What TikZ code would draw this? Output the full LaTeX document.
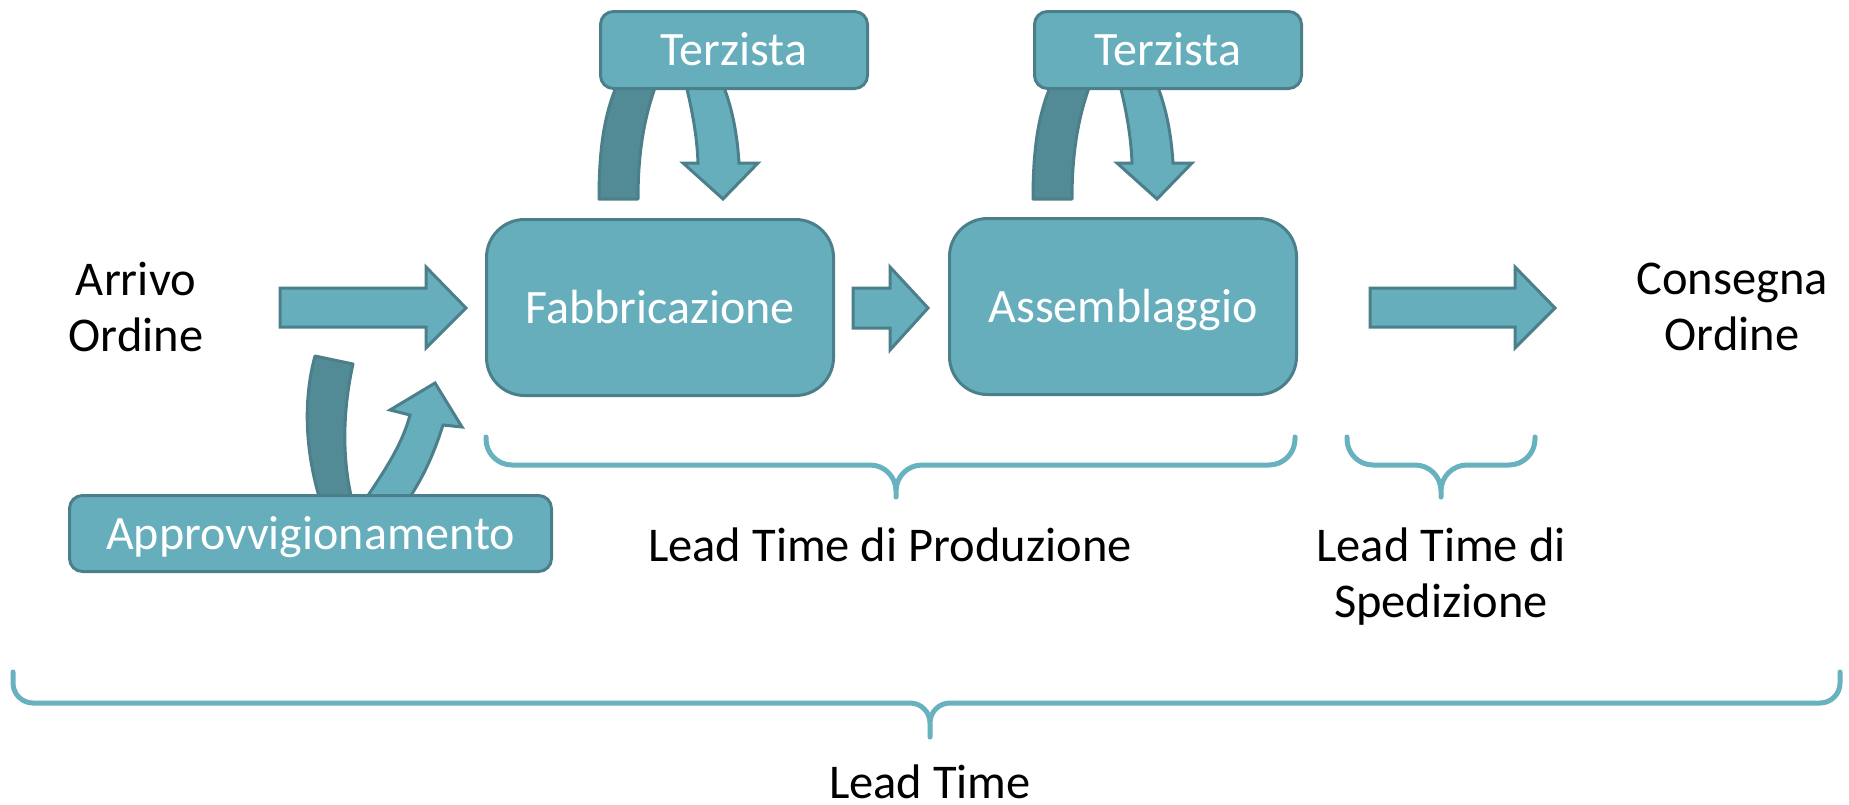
\documentclass[tikz,border=0pt]{standalone}
\usepackage{fontspec}
\setmainfont{Carlito}
\definecolor{tfill}{HTML}{67AEBD}
\definecolor{tline}{HTML}{4B7F8A}
\definecolor{tdark}{HTML}{528A95}
\definecolor{tbrace}{HTML}{68B1BF}
\tikzset{
  procbox/.style={draw=tline, fill=tfill, line width=3pt, rounded corners=38pt, text=white,
    font=\fontsize{48}{56}\selectfont,
    inner sep=0pt, minimum width=347pt, minimum height=176pt, text height=31pt, text depth=0pt},
  smallbox/.style={draw=tline, fill=tfill, line width=3pt, rounded corners=13pt, text=white,
    font=\fontsize{48}{56}\selectfont,
    inner sep=0pt, text height=31pt, text depth=0pt},
  blockarrow/.style={draw=tline, fill=tfill, line width=3pt, line join=miter},
  darkband/.style={draw=tline, fill=tdark, line width=3pt, line join=round},
  lightband/.style={draw=tline, fill=tfill, line width=3pt, line join=miter},
  bracestyle/.style={draw=tbrace, line width=5pt, line cap=round, line join=round},
  plain/.style={inner sep=0pt, text=black, align=center, font=\fontsize{48.5}{56}\selectfont},
}
% x1 x2 xt y0 y1 y2 r
\newcommand\leadbrace[7]{%
  \draw[bracestyle] (#1,#4) -- (#1,{#5-#7})
    .. controls (#1,{#5-0.448*#7}) and ({#1+0.448*#7},#5) .. ({#1+#7},#5)
    -- ({#3-#7},#5)
    .. controls ({#3-0.448*#7},#5) and (#3,{#5+0.448*#7}) .. (#3,{#5+#7})
    -- (#3,#6) -- (#3,{#5+#7})
    .. controls (#3,{#5+0.448*#7}) and ({#3+0.448*#7},#5) .. ({#3+#7},#5)
    -- ({#2-#7},#5)
    .. controls ({#2-0.448*#7},#5) and (#2,{#5-0.448*#7}) .. (#2,{#5-#7})
    -- (#2,#4);}
\begin{document}
\begin{tikzpicture}[x=1pt,y=-1pt]
\useasboundingbox (0,0) rectangle (1849,804);

% curved arrows behind the boxes (Terzista 1)
\draw[darkband] (599,199) .. controls (599,150) and (604,115) .. (617,85) -- (656,85)
  .. controls (645,115) and (638,150) .. (638,199) -- cycle;
\draw[lightband] (686,85) .. controls (692,110) and (697,135) .. (698,163) -- (683,163)
  -- (723,199) -- (758,163) -- (739,163) .. controls (737,130) and (731,105) .. (723,85) -- cycle;
% Terzista 2
\begin{scope}[xshift=434pt]
\draw[darkband] (599,199) .. controls (599,150) and (604,115) .. (617,85) -- (656,85)
  .. controls (645,115) and (638,150) .. (638,199) -- cycle;
\draw[lightband] (686,85) .. controls (692,110) and (697,135) .. (698,163) -- (683,163)
  -- (723,199) -- (758,163) -- (739,163) .. controls (737,130) and (731,105) .. (723,85) -- cycle;
\end{scope}
% Approvvigionamento arrows
\draw[darkband] (315,356) -- (353,364) .. controls (345,400) and (340,450) .. (352,500)
  -- (320,500) .. controls (305,450) and (303,400) .. (315,356) -- cycle;
\draw[lightband] (365,500) .. controls (385,470) and (402,445) .. (410,415) -- (390,410)
  -- (435,383) -- (462,427) -- (443,425) .. controls (432,460) and (420,482) .. (408,500) -- cycle;

% boxes
\node[procbox] (fab) at (660,307.5) {Fabbricazione};
\node[procbox] (ass) at (1123,306.5) {Assemblaggio};
\node[smallbox, minimum width=267pt, minimum height=77pt] (ter1) at (734,50) {Terzista};
\node[smallbox, minimum width=267pt, minimum height=77pt] (ter2) at (1168,50) {Terzista};
\node[smallbox, minimum width=482pt, minimum height=76pt] (app) at (310.5,533.5) {Approvvigionamento};

% texts
\node[plain] (arr) at (136,307) {Arrivo\\Ordine};
\node[plain] (con) at (1732,307) {Consegna\\Ordine};

% straight block arrows
\draw[blockarrow] (280,288) -- (426,288) -- (426,267) -- (466,308) -- (426,348) -- (426,327) -- (280,327) -- cycle;
\draw[blockarrow] (853,288) -- (890,288) -- (890,267) -- (928,308) -- (890,350) -- (890,328) -- (853,328) -- cycle;
\draw[blockarrow] (1370,288) -- (1515,288) -- (1515,267) -- (1555,308) -- (1515,348) -- (1515,327) -- (1370,327) -- cycle;

% braces
\leadbrace{486}{1295}{896}{437}{465}{497}{26}
\leadbrace{1347}{1535}{1441}{437}{465}{497}{26}
\leadbrace{13}{1840}{930}{672}{703}{737}{20}

\node[plain, anchor=base] (ltp) at (890,561) {Lead Time di Produzione};
\node[plain] (lts) at (1441,577) {Lead Time di\\Spedizione};
\node[plain, anchor=base] (lt) at (930,798) {Lead Time};
\end{tikzpicture}
\end{document}
